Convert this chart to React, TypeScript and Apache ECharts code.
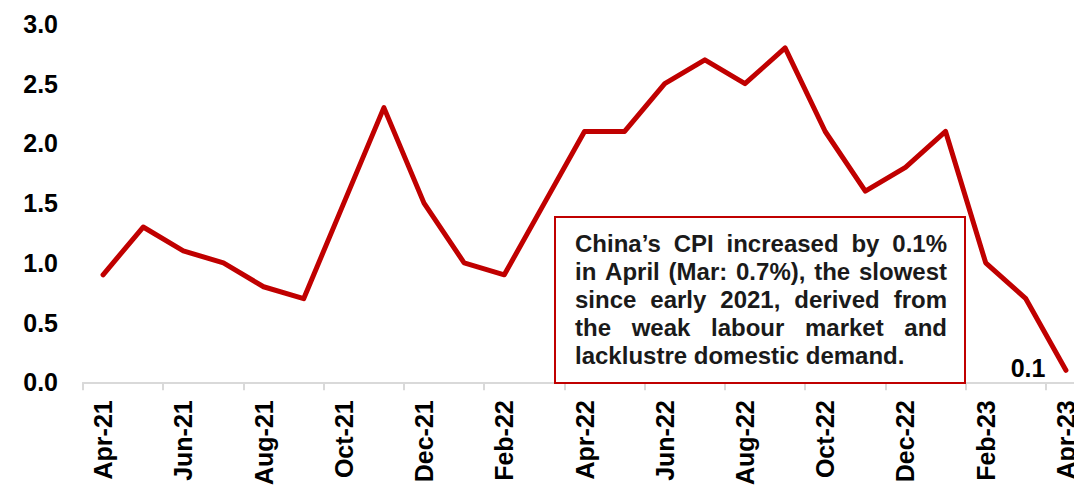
import React, { useEffect, useRef } from "react";
import * as echarts from "echarts";

const months = [
  "Apr-21", "May-21", "Jun-21", "Jul-21", "Aug-21", "Sep-21", "Oct-21", "Nov-21", "Dec-21",
  "Jan-22", "Feb-22", "Mar-22", "Apr-22", "May-22", "Jun-22", "Jul-22", "Aug-22", "Sep-22",
  "Oct-22", "Nov-22", "Dec-22", "Jan-23", "Feb-23", "Mar-23", "Apr-23",
];
const cpi = [
  0.9, 1.3, 1.1, 1.0, 0.8, 0.7, 1.5, 2.3, 1.5,
  1.0, 0.9, 1.5, 2.1, 2.1, 2.5, 2.7, 2.5, 2.8,
  2.1, 1.6, 1.8, 2.1, 1.0, 0.7, 0.1,
];
const yMin = 0;
const yMax = 3;
const yStep = 0.5;
const noteLines = [
  "China\u2019s CPI increased by 0.1%",
  "in April (Mar: 0.7%), the slowest",
  "since early 2021, derived from",
  "the weak labour market and",
  "lacklustre domestic demand.",
];

const FONT = "'Liberation Sans', Arial, Helvetica, sans-serif";
const RED = "#C00000";

function buildNote(): any[] {
  const box = { x: 555, y: 217, w: 410, h: 166 };
  const left = 575;
  const right = 947;
  const fontSize = 24;
  const lineGap = 28;
  const firstY = 243;
  const canvas = document.createElement("canvas");
  const ctx = canvas.getContext("2d")!;
  ctx.font = `bold ${fontSize}px ${FONT}`;
  const els: any[] = [
    {
      type: "rect",
      shape: { x: box.x, y: box.y, width: box.w, height: box.h },
      style: { fill: "#fff", stroke: RED, lineWidth: 2 },
      z: 10,
    },
  ];
  noteLines.forEach((line, i) => {
    const y = firstY + i * lineGap;
    const baseStyle = {
      fontSize,
      fontWeight: "bold",
      fontFamily: FONT,
      fill: "#1a1a1a",
      verticalAlign: "middle",
    };
    if (i === noteLines.length - 1) {
      els.push({ type: "text", x: left, y, z: 11, style: { ...baseStyle, text: line, align: "left" } });
      return;
    }
    const words = line.split(" ");
    const widths = words.map((w) => ctx.measureText(w).width);
    const total = widths.reduce((a, b) => a + b, 0);
    const gap = (right - left - total) / (words.length - 1);
    let x = left;
    words.forEach((w, j) => {
      els.push({ type: "text", x, y, z: 11, style: { ...baseStyle, text: w, align: "left" } });
      x += widths[j] + gap;
    });
  });
  return els;
}

export default function App() {
  const ref = useRef<HTMLDivElement>(null);
  useEffect(() => {
    document.body.style.margin = "0";
    document.body.style.overflow = "hidden";
    document.documentElement.style.overflow = "hidden";
    const chart = echarts.init(ref.current!, null, { renderer: "svg" });
    const last = cpi.length - 1;
    chart.setOption({
      animation: false,
      backgroundColor: "#fff",
      grid: { left: 83, right: 0, top: 24, bottom: 104, containLabel: false },
      xAxis: {
        type: "category",
        data: months,
        boundaryGap: true,
        axisLine: { show: true, lineStyle: { color: "#d9d9d9", width: 2 } },
        axisTick: { show: true, interval: 1, length: 8, lineStyle: { color: "#d9d9d9", width: 2 } },
        axisLabel: {
          interval: 1,
          rotate: 90,
          margin: 18,
          fontSize: 25,
          fontWeight: "bold",
          fontFamily: FONT,
          color: "#000",
        },
        splitLine: { show: false },
      },
      yAxis: {
        type: "value",
        min: yMin,
        max: yMax,
        interval: yStep,
        axisLine: { show: false },
        axisTick: { show: false },
        splitLine: { show: false },
        axisLabel: {
          margin: 25,
          fontSize: 25,
          fontWeight: "bold",
          fontFamily: FONT,
          color: "#000",
          formatter: (v: number) => v.toFixed(1),
        },
      },
      series: [
        {
          type: "line",
          data: cpi.map((v, i) =>
            i === last
              ? {
                  value: v,
                  label: {
                    show: true,
                    position: "left",
                    distance: 20,
                    offset: [0, -2],
                    fontSize: 25,
                    fontWeight: "bold",
                    fontFamily: FONT,
                    color: "#000",
                    formatter: (p: any) => Number(p.value).toFixed(1),
                  },
                }
              : v
          ),
          symbol: "circle",
          symbolSize: 1,
          showSymbol: true,
          lineStyle: { color: RED, width: 5, cap: "round", join: "round" },
          itemStyle: { color: RED },
          z: 5,
        },
      ],
      graphic: buildNote(),
    });
    return () => chart.dispose();
  }, []);
  return <div ref={ref} style={{ position: "fixed", left: 0, top: 0, width: 1086, height: 488 }} />;
}
